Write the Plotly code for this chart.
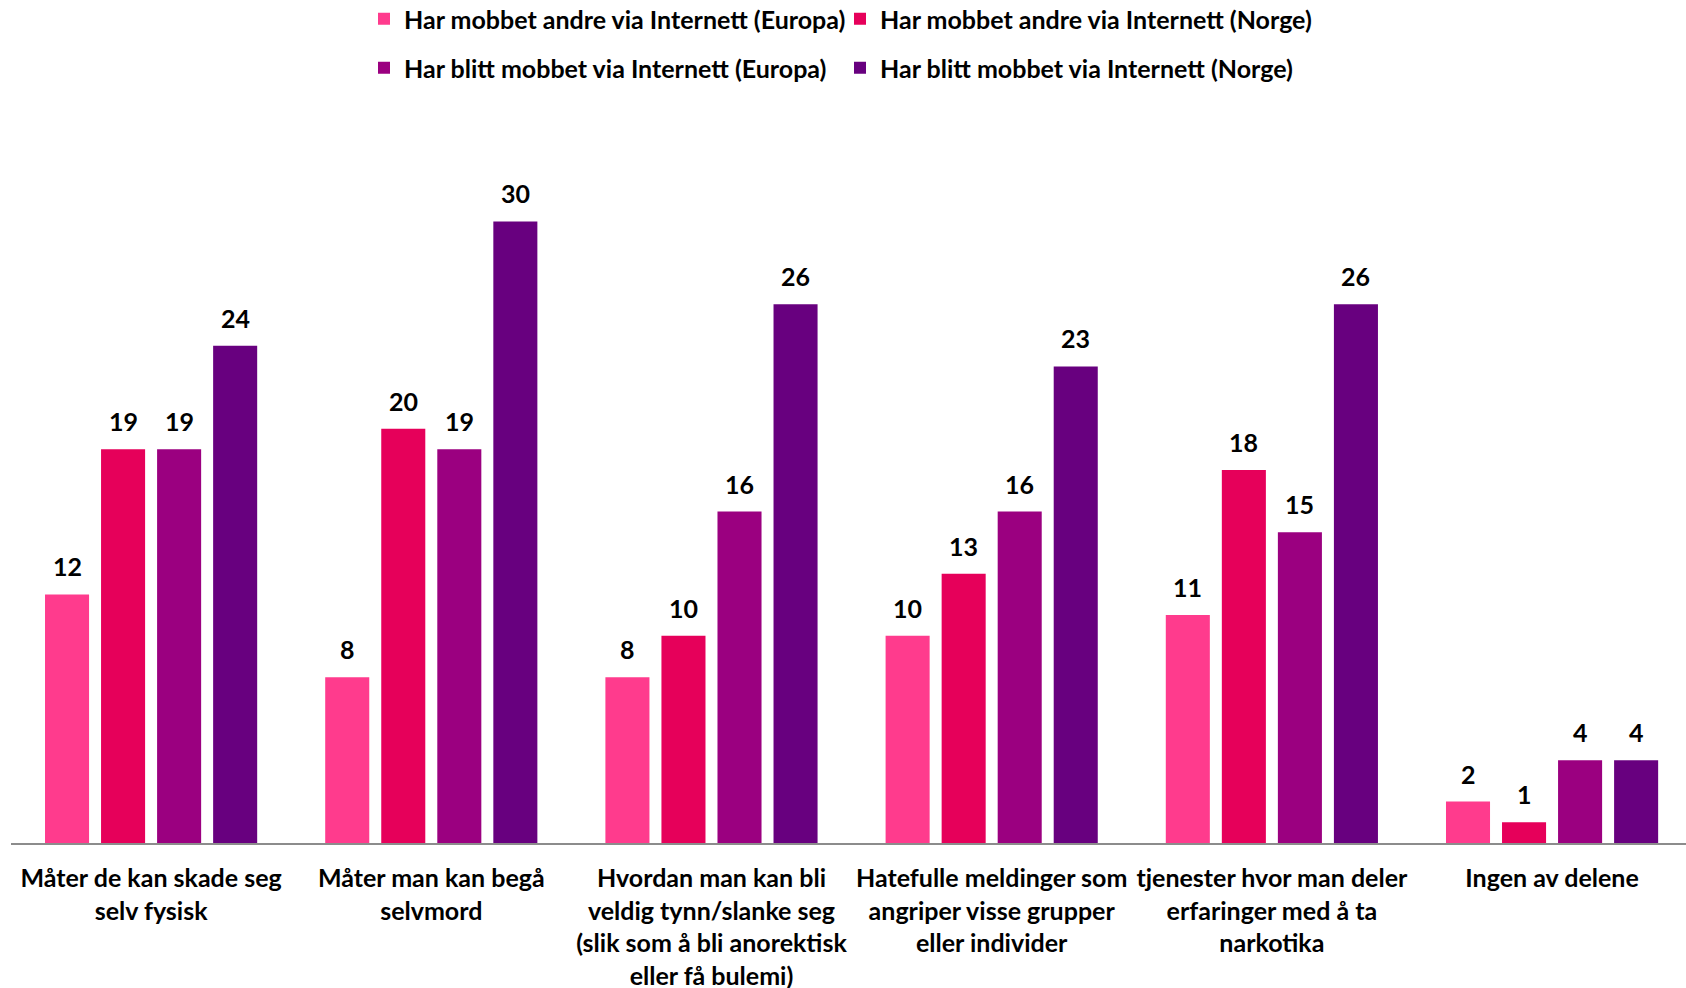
import plotly.graph_objects as go

categories = [
    "Måter de kan skade seg<br>selv fysisk",
    "Måter man kan begå<br>selvmord",
    "Hvordan man kan bli<br>veldig tynn/slanke seg<br>(slik som å bli anorektisk<br>eller få bulemi)",
    "Hatefulle meldinger som<br>angriper visse grupper<br>eller individer",
    "tjenester hvor man deler<br>erfaringer med å ta<br>narkotika",
    "Ingen av delene",
]
series_names = [
    "Har mobbet andre via Internett (Europa)",
    "Har mobbet andre via Internett (Norge)",
    "Har blitt mobbet via Internett (Europa)",
    "Har blitt mobbet via Internett (Norge)",
]
mobbet_andre_europa = [12, 8, 8, 10, 11, 2]
mobbet_andre_norge = [19, 20, 10, 13, 18, 1]
blitt_mobbet_europa = [19, 19, 16, 16, 15, 4]
blitt_mobbet_norge = [24, 30, 26, 23, 26, 4]
series_values = [mobbet_andre_europa, mobbet_andre_norge, blitt_mobbet_europa, blitt_mobbet_norge]
colors = ["#FF3B8D", "#E6005A", "#9B0080", "#68007F"]

FONT = "Lato, 'Liberation Sans', sans-serif"
W, H = 1686, 988

fig = go.Figure()
legend_ids = ["legend", "legend2", "legend3", "legend4"]
legend_xy = [(364, 19), (840, 19), (364, 68), (840, 68)]
nser = len(series_values)
for j, (name, vals) in enumerate(zip(series_names, series_values)):
    fig.add_trace(go.Bar(
        x=list(range(len(categories))), y=vals, name=name,
        marker=dict(color=colors[j], line=dict(width=0)),
        legend=legend_ids[j],
        hoverinfo="skip",
    ))
    for i, v in enumerate(vals):
        fig.add_annotation(
            x=i + (j - (nser - 1) / 2) * 0.8 / nser, y=v, text=f"<b>{v}</b>",
            showarrow=False, yanchor="bottom", yshift=11,
            font=dict(family=FONT, size=25, color="black"),
        )

legend_common = dict(
    orientation="h", xref="container", yref="container",
    xanchor="left", yanchor="middle",
    font=dict(family=FONT, size=25, color="black", weight="bold"),
    bgcolor="rgba(0,0,0,0)", borderwidth=0,
    itemclick=False,
)
legend_layout = {
    lid: dict(x=lx / W, y=1 - ly / H, **legend_common)
    for lid, (lx, ly) in zip(legend_ids, legend_xy)
}
fig.update_layout(
    width=W, height=H,
    paper_bgcolor="white", plot_bgcolor="white",
    margin=dict(l=11, r=0, t=180, b=145, autoexpand=False),
    barmode="group", bargap=0.2, bargroupgap=0.214,
    showlegend=True,
    xaxis=dict(
        tickmode="array", tickvals=list(range(len(categories))), ticktext=categories,
        range=[-0.5, len(categories) - 0.522],
        showline=True, linecolor="#8C8C8C", linewidth=2,
        showgrid=False, zeroline=False, ticks="",
        tickfont=dict(family=FONT, size=25, color="black", weight="bold"),
        ticklabelstandoff=12,
    ),
    yaxis=dict(range=[0, 32], visible=False),
    **legend_layout,
)
fig.write_html(
    "out.html",
    config={"displayModeBar": False},
    post_script="document.body.style.margin='0';",
)
